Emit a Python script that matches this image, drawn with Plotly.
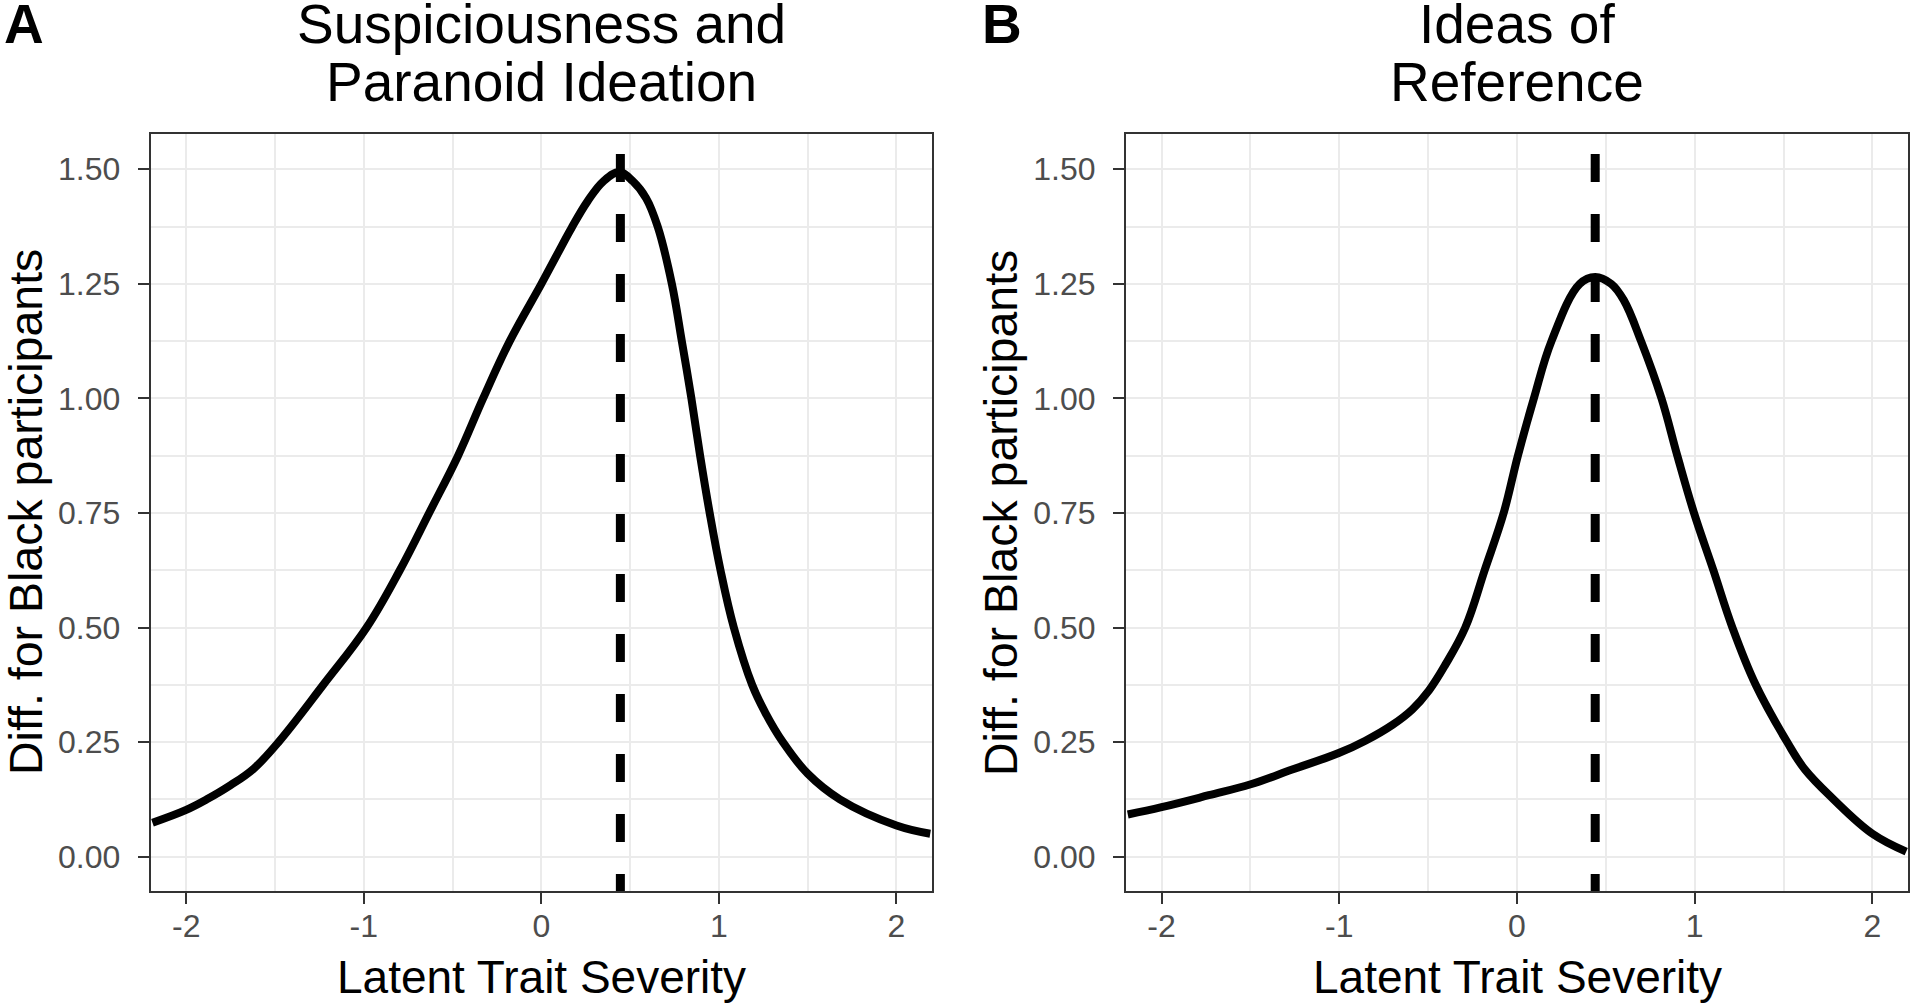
import plotly.graph_objects as go

# ---- data ----
x_a = [-2.19, -2.0, -1.884, -1.75, -1.62, -1.48, -1.228, -0.984, -0.797, -0.632, -0.469,
       -0.328, -0.178, 0.0, 0.09, 0.17, 0.26, 0.35, 0.44, 0.515, 0.59, 0.655, 0.735, 0.791,
       0.845, 0.894, 0.948, 1.009, 1.084, 1.187, 1.26, 1.36, 1.5, 1.681, 2.0, 2.19]
y_a = [0.074, 0.102, 0.125, 0.156, 0.192, 0.25, 0.375, 0.5, 0.625, 0.75, 0.875, 1.0, 1.125,
       1.25, 1.315, 1.372, 1.430, 1.474, 1.494, 1.474, 1.437, 1.375, 1.25, 1.125, 1.0, 0.875,
       0.75, 0.625, 0.5, 0.375, 0.315, 0.25, 0.181, 0.125, 0.068, 0.050]

x_b = [-2.19, -2.0, -1.734, -1.498, -1.265, -1.003, -0.853, -0.703, -0.59, -0.495, -0.403,
       -0.291, -0.182, -0.075, 0.005, 0.095, 0.194, 0.353, 0.44, 0.53, 0.60, 0.698, 0.813,
       0.902, 0.996, 1.105, 1.212, 1.343, 1.52, 1.62, 1.781, 2.0, 2.19]
y_b = [0.092, 0.108, 0.134, 0.158, 0.190, 0.226, 0.253, 0.287, 0.321, 0.363, 0.419, 0.5,
       0.625, 0.75, 0.875, 1.0, 1.125, 1.25, 1.265, 1.25, 1.215, 1.125, 1.0, 0.875, 0.75,
       0.625, 0.5, 0.375, 0.25, 0.19, 0.125, 0.050, 0.011]

peak_x = [0.445, 0.44]
titles = [["Suspiciousness and", "Paranoid Ideation"], ["Ideas of", "Reference"]]
panel_labels = ["A", "B"]
x_title = "Latent Trait Severity"
y_title = "Diff. for Black participants"
x_ticks = [-2, -1, 0, 1, 2]
y_ticks = [0.0, 0.25, 0.5, 0.75, 1.0, 1.25, 1.5]

W, H = 1910, 1004
FONT = "Liberation Sans, Arial, sans-serif"

fig = go.Figure()
for xs, ys, xa, ya in [(x_a, y_a, "x", "y"), (x_b, y_b, "x2", "y2")]:
    fig.add_trace(go.Scatter(x=xs, y=ys, mode="lines", xaxis=xa, yaxis=ya,
                             line=dict(color="black", width=8, shape="spline", smoothing=1.1),
                             showlegend=False, hoverinfo="skip"))

dom_a = [150.7 / W, 932 / W]
dom_b = [1126 / W, 1908 / W]
ydom = [1 - 891 / H, 1 - 134 / H]

GRID = "#EBEBEB"
def xaxis(domain, anchor):
    return dict(domain=domain, anchor=anchor, range=[-2.2, 2.2],
                tickvals=x_ticks, ticktext=[str(v) for v in x_ticks],
                showgrid=True, gridcolor=GRID, gridwidth=2.4,
                minor=dict(showgrid=True, gridcolor=GRID, gridwidth=1.8, dtick=0.5, tick0=0, ticks=""),
                zeroline=False, showline=True, mirror=True, linecolor="#333333", linewidth=2,
                ticks="outside", ticklen=11, tickwidth=2, tickcolor="#333333",
                tickfont=dict(family=FONT, size=32, color="#4D4D4D"),
                ticklabelstandoff=-5)

def yaxis(anchor):
    return dict(domain=ydom, anchor=anchor, range=[-0.075, 1.577],
                tickvals=y_ticks, ticktext=["%.2f" % v for v in y_ticks],
                showgrid=True, gridcolor=GRID, gridwidth=2.4,
                minor=dict(showgrid=True, gridcolor=GRID, gridwidth=1.8, dtick=0.125, tick0=0, ticks=""),
                zeroline=False, showline=True, mirror=True, linecolor="#333333", linewidth=2,
                ticks="outside", ticklen=11, tickwidth=2, tickcolor="#333333",
                tickfont=dict(family=FONT, size=32, color="#4D4D4D"),
                ticklabelstandoff=11)

fig.update_layout(
    width=W, height=H, margin=dict(l=0, r=0, t=0, b=0),
    paper_bgcolor="white", plot_bgcolor="white",
    xaxis=xaxis(dom_a, "y"), yaxis=yaxis("x"),
    xaxis2=xaxis(dom_b, "y2"), yaxis2=yaxis("x2"),
)

shapes = []
for i, px in enumerate(peak_x):
    xr = "x" if i == 0 else "x2"
    yr = "y domain" if i == 0 else "y2 domain"
    shapes.append(dict(type="line", xref=xr, yref=yr, x0=px, x1=px, y0=1, y1=0,
                       line=dict(color="black", width=9, dash="0px,20px,28px,12px")))
fig.update_layout(shapes=shapes)

ann = []
centers = [(dom_a[0] + dom_a[1]) / 2, (dom_b[0] + dom_b[1]) / 2]
for i in range(2):
    for j, line in enumerate(titles[i]):
        ann.append(dict(text=line, x=centers[i], y=1 - (24 + 58 * j) / H, xref="paper", yref="paper",
                        xanchor="center", yanchor="middle", showarrow=False,
                        font=dict(family=FONT, size=55, color="black")))
    ann.append(dict(text=x_title, x=centers[i], y=1 - 977 / H, xref="paper", yref="paper",
                    xanchor="center", yanchor="middle", showarrow=False,
                    font=dict(family=FONT, size=46, color="black")))
for xc in [25.5 / W, 1000.5 / W]:
    ann.append(dict(text=y_title, x=xc, y=1 - 512.5 / H, xref="paper", yref="paper", textangle=-90,
                    xanchor="center", yanchor="middle", showarrow=False,
                    font=dict(family=FONT, size=46.5, color="black")))
for lab, xc in zip(panel_labels, [24 / W, 1002 / W]):
    ann.append(dict(text="<b>%s</b>" % lab, x=xc, y=1 - 24 / H, xref="paper", yref="paper",
                    xanchor="center", yanchor="middle", showarrow=False,
                    font=dict(family=FONT, size=55, color="black")))
fig.update_layout(annotations=ann)

fig.write_html("out.html", config={"displayModeBar": False},
               post_script="document.body.style.margin='0';document.body.style.overflow='hidden';")
